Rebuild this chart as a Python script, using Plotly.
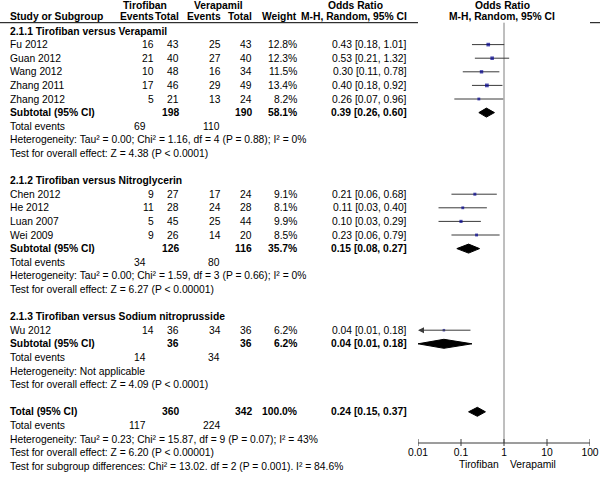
import numpy as np
import plotly.graph_objects as go

# ---------------- data ----------------
studies = ["Fu 2012", "Guan 2012", "Wang 2012", "Zhang 2011", "Zhang 2012",
           "Chen 2012", "He 2012", "Luan 2007", "Wei 2009", "Wu 2012"]
study_group = [0, 0, 0, 0, 0, 1, 1, 1, 1, 2]
tiro_events = [16, 21, 10, 17, 5, 9, 11, 5, 9, 14]
tiro_total = [43, 40, 48, 46, 21, 27, 28, 45, 26, 36]
vera_events = [25, 27, 16, 29, 13, 17, 24, 25, 14, 34]
vera_total = [43, 40, 34, 49, 24, 24, 28, 44, 20, 36]
weights = [12.8, 12.3, 11.5, 13.4, 8.2, 9.1, 8.1, 9.9, 8.5, 6.2]
or_est = [0.43, 0.53, 0.30, 0.40, 0.26, 0.21, 0.11, 0.10, 0.23, 0.04]
or_lo = [0.18, 0.21, 0.11, 0.18, 0.07, 0.06, 0.03, 0.03, 0.06, 0.01]
or_hi = [1.01, 1.32, 0.78, 0.92, 0.96, 0.68, 0.40, 0.29, 0.79, 0.18]

group_names = ["2.1.1 Tirofiban versus Verapamil",
               "2.1.2 Tirofiban versus Nitroglycerin",
               "2.1.3 Tirofiban versus Sodium nitroprusside"]
group_tiro_total = [198, 126, 36]
group_vera_total = [190, 116, 36]
group_tiro_events = [69, 34, 14]
group_vera_events = [110, 80, 34]
group_weight = [58.1, 35.7, 6.2]
group_or = [0.39, 0.15, 0.04]
group_lo = [0.26, 0.08, 0.01]
group_hi = [0.60, 0.27, 0.18]
group_het = ["Heterogeneity: Tau² = 0.00; Chi² = 1.16, df = 4 (P = 0.88); I² = 0%",
             "Heterogeneity: Tau² = 0.00; Chi² = 1.59, df = 3 (P = 0.66); I² = 0%",
             "Heterogeneity: Not applicable"]
group_test = ["Test for overall effect: Z = 4.38 (P < 0.0001)",
              "Test for overall effect: Z = 6.27 (P < 0.00001)",
              "Test for overall effect: Z = 4.09 (P < 0.0001)"]

total_tiro, total_vera = 360, 342
total_tiro_events, total_vera_events = 117, 224
total_weight = 100.0
total_or, total_lo, total_hi = 0.24, 0.15, 0.37
total_het = "Heterogeneity: Tau² = 0.23; Chi² = 15.87, df = 9 (P = 0.07); I² = 43%"
total_test = "Test for overall effect: Z = 6.20 (P < 0.00001)"
subgroup_test = "Test for subgroup differences: Chi² = 13.02. df = 2 (P = 0.001). I² = 84.6%"

tick_vals = [0.01, 0.1, 1, 10, 100]
tick_labels = ["0.01", "0.1", "1", "10", "100"]
favours = ["Tirofiban", "Verapamil"]

# ---------------- layout helpers ----------------
Y0, DY = 31.0, 13.6
FONT = "Liberation Sans, Arial, sans-serif"
FS = 10.3
X_NAME, X_TE, X_TT, X_VE, X_VT, X_W, X_OR = 9, 155, 180, 222, 253, 298, 408
X_TEV, X_VEV = 147, 221

def ry(i):
    return Y0 + DY * i

fig = go.Figure()
ann = []

def txt(x, y, s, anchor="left", bold=False):
    ann.append(dict(x=x, y=y, xref="x", yref="y", text=("<b>%s</b>" % s) if bold else s,
                    showarrow=False, xanchor=anchor, yanchor="middle",
                    font=dict(family=FONT, size=FS, color="black"), borderpad=0))

# header
txt(145, 5, "Tirofiban", "center", True)
txt(218, 5, "Verapamil", "center", True)
txt(355, 5, "Odds Ratio", "center", True)
txt(502, 5, "Odds Ratio", "center", True)
txt(X_NAME, 16.5, "Study or Subgroup", "left", True)
txt(X_TE, 16.5, "Events", "right", True)
txt(X_TT, 16.5, "Total", "right", True)
txt(X_VE, 16.5, "Events", "right", True)
txt(X_VT, 16.5, "Total", "right", True)
txt(X_W, 16.5, "Weight", "right", True)
txt(X_OR, 16.5, "M-H, Random, 95% CI", "right", True)
txt(502, 16.5, "M-H, Random, 95% CI", "center", True)

fig.add_trace(go.Scatter(x=[0, 600], y=[22.7, 22.7], xaxis="x", yaxis="y", mode="lines",
                         line=dict(color="black", width=1), hoverinfo="skip"))

# row assignment
row = 0
study_rows, sub_rows = [], []
for g in range(3):
    txt(X_NAME, ry(row), group_names[g], "left", True)
    row += 1
    for k in range(len(studies)):
        if study_group[k] != g:
            continue
        y = ry(row)
        study_rows.append(y)
        txt(X_NAME, y, studies[k])
        txt(X_TE, y, str(tiro_events[k]), "right")
        txt(X_TT, y, str(tiro_total[k]), "right")
        txt(X_VE, y, str(vera_events[k]), "right")
        txt(X_VT, y, str(vera_total[k]), "right")
        txt(X_W, y, "%.1f%%" % weights[k], "right")
        txt(X_OR, y, "%.2f [%.2f, %.2f]" % (or_est[k], or_lo[k], or_hi[k]), "right")
        row += 1
    y = ry(row)
    sub_rows.append(y)
    txt(X_NAME, y, "Subtotal (95% CI)", "left", True)
    txt(X_TT, y, str(group_tiro_total[g]), "right", True)
    txt(X_VT, y, str(group_vera_total[g]), "right", True)
    txt(X_W, y, "%.1f%%" % group_weight[g], "right", True)
    txt(X_OR, y, "%.2f [%.2f, %.2f]" % (group_or[g], group_lo[g], group_hi[g]), "right", True)
    row += 1
    txt(X_NAME, ry(row), "Total events")
    txt(X_TEV, ry(row), str(group_tiro_events[g]), "right")
    txt(X_VEV, ry(row), str(group_vera_events[g]), "right")
    row += 1
    txt(X_NAME, ry(row), group_het[g])
    row += 1
    txt(X_NAME, ry(row), group_test[g])
    row += 2

y_tot = ry(row)
txt(X_NAME, y_tot, "Total (95% CI)", "left", True)
txt(X_TT, y_tot, str(total_tiro), "right", True)
txt(X_VT, y_tot, str(total_vera), "right", True)
txt(X_W, y_tot, "%.1f%%" % total_weight, "right", True)
txt(X_OR, y_tot, "%.2f [%.2f, %.2f]" % (total_or, total_lo, total_hi), "right", True)
row += 1
txt(X_NAME, ry(row), "Total events")
txt(X_TEV, ry(row), str(total_tiro_events), "right")
txt(X_VEV, ry(row), str(total_vera_events), "right")
row += 1
txt(X_NAME, ry(row), total_het)
row += 1
txt(X_NAME, ry(row), total_test)
row += 1
txt(X_NAME, ry(row), subgroup_test)

# ---------------- forest plot ----------------
AX_Y = 443
ci_col = "#3a3a3a"
# null line
fig.add_trace(go.Scatter(x=[1, 1], y=[22.7, AX_Y], xaxis="x2", yaxis="y", mode="lines",
                         line=dict(color="#7f7f7f", width=1), hoverinfo="skip"))
# CI lines
for k in range(len(studies)):
    y = study_rows[k]
    if or_lo[k] <= tick_vals[0]:
        ann.append(dict(x=np.log10(tick_vals[0]), y=y, xref="x2", yref="y",
                        ax=np.log10(or_hi[k]), ay=y, axref="x2", ayref="y",
                        showarrow=True, arrowhead=2, arrowsize=1.2, arrowwidth=1,
                        arrowcolor=ci_col, text=""))
    else:
        fig.add_trace(go.Scatter(x=[or_lo[k], or_hi[k]], y=[y, y], xaxis="x2", yaxis="y",
                                 mode="lines", line=dict(color=ci_col, width=1), hoverinfo="skip"))
fig.add_trace(go.Scatter(x=or_est, y=study_rows, xaxis="x2", yaxis="y", mode="markers",
                         marker=dict(symbol="square", color="#00008f",
                                     size=[1.5 + w / 6 for w in weights], line=dict(width=0)),
                         hoverinfo="skip"))
# diamonds
def diamond(est, lo, hi, y, h=4.5):
    fig.add_trace(go.Scatter(x=[lo, est, hi, est, lo], y=[y, y - h, y, y + h, y],
                             xaxis="x2", yaxis="y", mode="lines", fill="toself",
                             fillcolor="black", line=dict(color="black", width=1),
                             hoverinfo="skip"))
for g in range(3):
    diamond(group_or[g], group_lo[g], group_hi[g], sub_rows[g])
diamond(total_or, total_lo, total_hi, y_tot)

# axis
fig.add_trace(go.Scatter(x=[tick_vals[0], tick_vals[-1]], y=[AX_Y, AX_Y], xaxis="x2", yaxis="y",
                         mode="lines", line=dict(color="#3a3a3a", width=1), hoverinfo="skip"))
for t in tick_vals:
    fig.add_trace(go.Scatter(x=[t, t], y=[AX_Y - 4, AX_Y + 3], xaxis="x2", yaxis="y",
                             mode="lines", line=dict(color="#3a3a3a", width=1), hoverinfo="skip"))
fig.add_trace(go.Scatter(x=tick_vals, y=[453] * len(tick_vals), xaxis="x2", yaxis="y",
                         mode="text", text=tick_labels, textposition="middle center",
                         textfont=dict(family=FONT, size=FS, color="black"), hoverinfo="skip",
                         cliponaxis=False))
txt(500, 464, favours[0], "right")
txt(509, 464, favours[1], "left")

fig.update_layout(
    width=600, height=480, margin=dict(l=0, r=0, t=0, b=0),
    paper_bgcolor="white", plot_bgcolor="white", showlegend=False,
    xaxis=dict(range=[0, 600], visible=False, domain=[0, 1], fixedrange=True),
    xaxis2=dict(type="log", range=[-2, 2], domain=[418 / 600, 590 / 600],
                anchor="y", visible=False),
    yaxis=dict(range=[480, 0], visible=False, domain=[0, 1]),
    annotations=ann,
)
fig.write_html("out.html", config={"displayModeBar": False},
               post_script="document.body.style.margin='0';")
